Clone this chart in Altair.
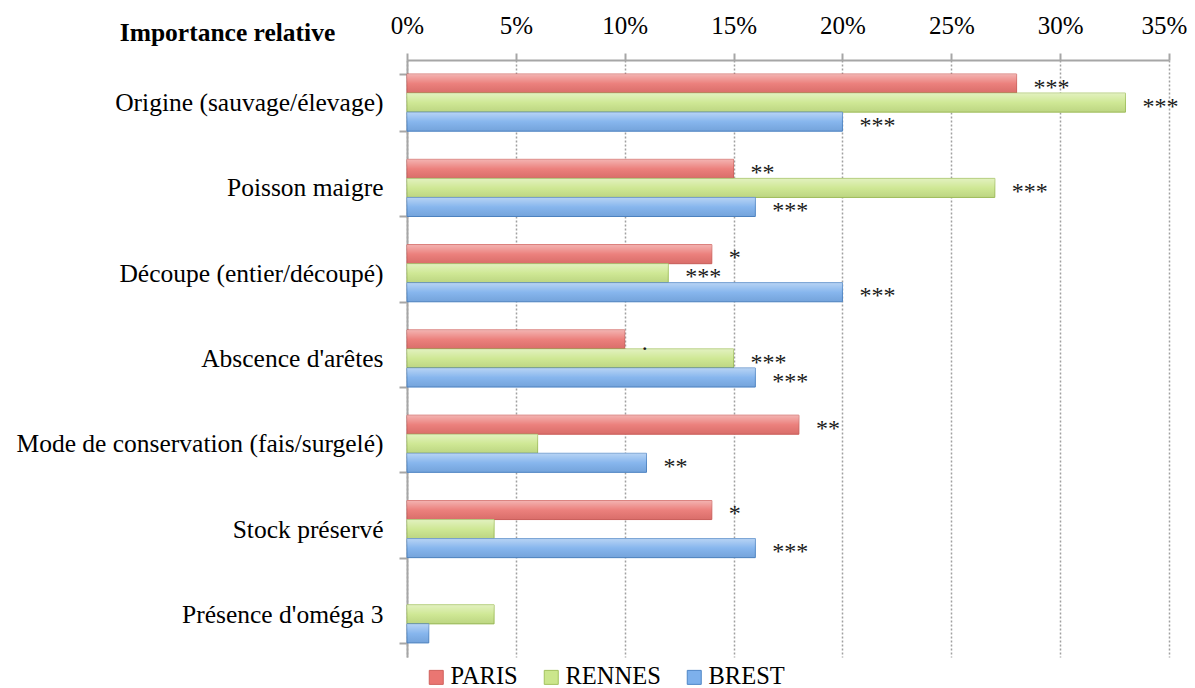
import altair as alt
import pandas as pd

categories = [
    "Origine (sauvage/élevage)",
    "Poisson maigre",
    "Découpe (entier/découpé)",
    "Abscence d'arêtes",
    "Mode de conservation (fais/surgelé)",
    "Stock préservé",
    "Présence d'oméga 3",
]
cities = ["PARIS", "RENNES", "BREST"]
paris = [28, 15, 14, 10, 18, 14, 0]
rennes = [33, 27, 12, 15, 6, 4, 4]
brest = [20, 16, 20, 16, 11, 16, 1]
sig_paris = ["***", "**", "*", ".", "**", "*", ""]
sig_rennes = ["***", "***", "***", "***", "", "", ""]
sig_brest = ["***", "***", "***", "***", "**", "***", ""]
x_ticks = [0, 0.05, 0.10, 0.15, 0.20, 0.25, 0.30, 0.35]

fill_colors = ["#EA7672", "#CBE68C", "#7DB0EC"]
stroke_colors = ["#D0605C", "#A3C25E", "#4F86C6"]

rows = []
for city, vals, sigs in zip(cities, [paris, rennes, brest], [sig_paris, sig_rennes, sig_brest]):
    for cat, v, s in zip(categories, vals, sigs):
        rows.append({"cat": cat, "city": city, "val": v / 100, "sig": s})
df = pd.DataFrame(rows)

FONT = "Liberation Serif"

y_enc = alt.Y(
    "cat:N",
    sort=categories,
    scale=alt.Scale(paddingInner=0.33, paddingOuter=0.165),
    axis=alt.Axis(
        title="Importance relative",
        titleAngle=0,
        titleFont=FONT,
        titleFontSize=25.5,
        titleFontWeight="bold",
        titleColor="#000",
        titleAlign="center",
        titleBaseline="alphabetic",
        titleX=-180,
        titleY=-20,
        labelFont=FONT,
        labelFontSize=25.5,
        labelColor="#000",
        labelPadding=16,
        labelLimit=500,
        tickBand="extent",
        tickSize=8,
        tickColor="#A6A6A6",
        tickWidth=2,
        domainColor="#A6A6A6",
        domainWidth=2,
        grid=False,
    ),
)
yoff = alt.YOffset("city:N", sort=cities, scale=alt.Scale(paddingInner=0, paddingOuter=0))
x_enc = alt.X(
    "val:Q",
    scale=alt.Scale(domain=[0, 0.35], nice=False),
    axis=alt.Axis(
        orient="top",
        values=x_ticks,
        format=".0%",
        title=None,
        labelFont=FONT,
        labelFontSize=25,
        labelColor="#000",
        labelPadding=15,
        labelFlush=False,
        labelOffset={"condition": {"test": "datum.value >= 0.35", "value": -5}, "value": 0},
        tickSize=7,
        tickColor="#A6A6A6",
        tickWidth=2,
        domainColor="#A6A6A6",
        domainWidth=2,
        grid=True,
        gridColor="#A0A0A0",
        gridDash=[2, 2],
        gridWidth=1.5,
    ),
)

legend = alt.Legend(
    title=None,
    orient="none",
    direction="horizontal",
    legendX=17,
    legendY=605,
    symbolType="square",
    symbolSize=196,
    symbolStrokeWidth=1,
    labelFont=FONT,
    labelFontSize=24.5,
    labelColor="#000",
    labelOffset=2,
    columnPadding=21,
    padding=0,
)

bars = alt.Chart(df).transform_filter("datum.val > 0").mark_bar(strokeWidth=1).encode(
    x=x_enc,
    y=y_enc,
    yOffset=yoff,
    color=alt.Color("city:N", sort=cities,
                    scale=alt.Scale(domain=cities, range=fill_colors), legend=legend),
    stroke=alt.Stroke("city:N", sort=cities,
                      scale=alt.Scale(domain=cities, range=stroke_colors), legend=legend),
)

gloss = alt.Chart(df).transform_filter("datum.val > 0").mark_bar(
    fill={
        "gradient": "linear",
        "x1": 0, "x2": 0, "y1": 0, "y2": 1,
        "stops": [
            {"offset": 0, "color": "rgba(255,255,255,0.45)"},
            {"offset": 0.5, "color": "rgba(255,255,255,0.08)"},
            {"offset": 1, "color": "rgba(0,0,0,0.07)"},
        ],
    },
    strokeWidth=0,
).encode(x="val:Q", y=alt.Y("cat:N", sort=categories), yOffset=yoff)

labels = alt.Chart(df).mark_text(
    align="left", baseline="middle", dx=17, dy=4, font=FONT, fontSize=24, color="#1a1a1a"
).encode(x="val:Q", y=alt.Y("cat:N", sort=categories), yOffset=yoff, text="sig:N")

chart = alt.layer(bars, gloss, labels).properties(
    width=762,
    height=597,
    autosize=alt.AutoSizeParams(type="none"),
    padding={"left": 399, "top": 52, "right": 18, "bottom": 36},
).configure_view(stroke=None)

chart.save("out.html", embed_options={"renderer": "svg", "actions": False})
